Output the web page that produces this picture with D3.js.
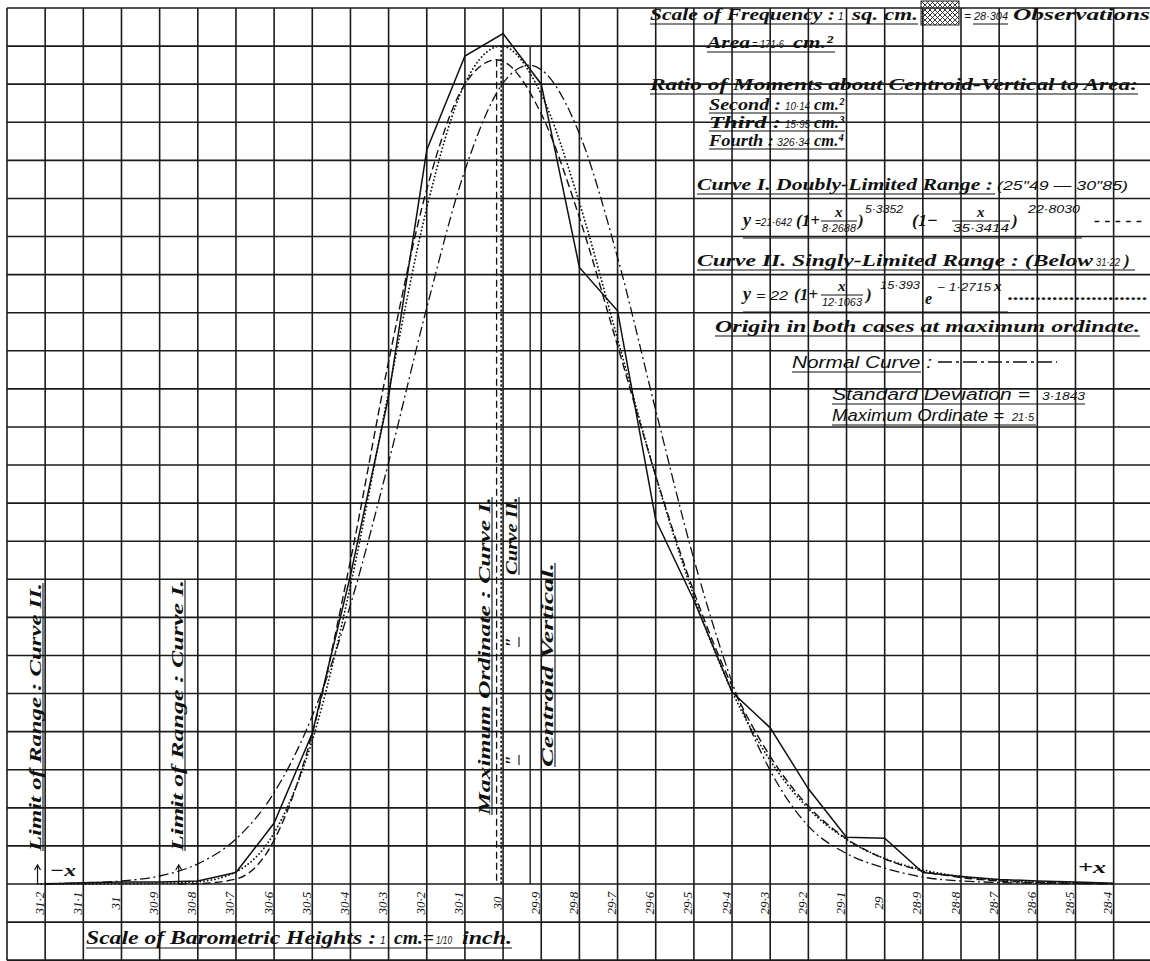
<!DOCTYPE html>
<html>
<head>
<meta charset="utf-8">
<title>Barometric Heights</title>
<script src="https://d3js.org/d3.v7.min.js"></script>
<style>
  body { margin: 0; background: #fff; }
  svg { display: block; }
  .h { font-family: 'Liberation Serif', serif; font-style: italic; font-weight: bold; font-size: 17px; fill: #111; }
  .n { font-family: 'Liberation Sans', sans-serif; font-style: italic; font-size: 10px; fill: #111; }
  .s { font-family: 'Liberation Sans', sans-serif; font-style: italic; font-size: 15px; fill: #111; }
  .tick text { font-family: 'Liberation Serif', serif; font-style: italic; font-size: 13px; fill: #111; }
</style>
</head>
<body>
<svg id="chart"></svg>
<script>
    // barometric heights (inches) at the ruled verticals, with their printed labels
    var tickHeights = [31.2, 31.1, 31.0, 30.9, 30.8, 30.7, 30.6, 30.5, 30.4, 30.3, 30.2, 30.1, 30.0, 29.9, 29.8,
        29.7, 29.6, 29.5, 29.4, 29.3, 29.2, 29.1, 29.0, 28.9, 28.8, 28.7, 28.6, 28.5, 28.4];
    var tickLabels = ['31·2', '31·1', '31', '30·9', '30·8', '30·7', '30·6', '30·5', '30·4', '30·3', '30·2', '30·1', '30',
        '29·9', '29·8', '29·7', '29·6', '29·5', '29·4', '29·3', '29·2', '29·1', '29', '28·9', '28·8', '28·7', '28·6', '28·5', '28·4'];

    // observed frequency polygon (ordinates in cm), one per tick height
    var observed = [0, 0.03, 0.05, 0.05, 0.08, 0.3, 1.6, 3.96, 8.1, 12.8, 19.27, 21.74, 22.33, 21.0, 16.19,
        15.05, 9.56, 7.45, 5.04, 4.1, 2.5, 1.23, 1.2, 0.3, 0.2, 0.12, 0.08, 0.05, 0.02];

    // Curve I, doubly limited range (dashed)
    var curveOneHeights = [30.85, 30.8, 30.7, 30.6, 30.5, 30.4, 30.3, 30.2, 30.1, 30.017, 29.9, 29.8, 29.7,
        29.6, 29.5, 29.4, 29.3, 29.2, 29.1, 29.0, 28.9, 28.8, 28.7, 28.6, 28.5, 28.4];
    var curveOneValues = [0, 0.01, 0.13, 1.15, 3.95, 8.49, 13.72, 18.24, 21.0, 21.64, 20.22, 17.5, 14.13,
        10.72, 7.67, 5.2, 3.35, 2.04, 1.19, 0.66, 0.34, 0.17, 0.08, 0.04, 0.02, 0.01];

    // Curve II, singly limited range (dotted)
    var curveTwoHeights = [31.22, 31.1, 31.0, 30.9, 30.8, 30.7, 30.6, 30.5, 30.4, 30.3, 30.2, 30.1, 30.005,
        29.9, 29.8, 29.7, 29.6, 29.5, 29.4, 29.3, 29.2, 29.1, 29.0, 28.9, 28.8, 28.7, 28.6, 28.5, 28.4];
    var curveTwoValues = [0, 0, 0.01, 0.02, 0.06, 0.32, 1.34, 3.77, 7.83, 12.92, 17.75, 21.02, 22.0,
        20.74, 17.89, 14.31, 10.71, 7.56, 5.06, 3.24, 1.98, 1.17, 0.67, 0.37, 0.2, 0.1, 0.05, 0.03, 0.01];

    // normal curve (dash-dot)
    var normalHeights = [31.2, 31.1, 31.0, 30.9, 30.8, 30.7, 30.6, 30.5, 30.4, 30.3, 30.2, 30.1, 30.0, 29.93,
        29.9, 29.8, 29.7, 29.6, 29.5, 29.4, 29.3, 29.2, 29.1, 29.0, 28.9, 28.8, 28.7, 28.6, 28.5, 28.4];
    var normalValues = [0.01, 0.03, 0.08, 0.21, 0.53, 1.18, 2.4, 4.41, 7.33, 11.07, 15.13, 18.74, 21.03, 21.5,
        21.38, 19.7, 16.45, 12.44, 8.53, 5.3, 2.98, 1.52, 0.8, 0.42, 0.18, 0.08, 0.04, 0.02, 0.01, 0];

    // verticals: maximum ordinates, centroid, range limits
    var modeOne = 30.017, modeOneTop = 21.64;
    var modeTwo = 30.005, modeTwoTop = 22.0;
    var centroid = 29.929, centroidTop = 22.0;
    var limitOne = 30.85, limitTwo = 31.22;

    var width = 1150, height = 961;
    var svg = d3.select('#chart').attr('width', width).attr('height', height);
    svg.append('rect').attr('width', width).attr('height', height).attr('fill', '#fff');

    var x = d3.scaleLinear().domain([31.3, 28.3]).range([7, 1151.8]);
    var y = d3.scaleLinear().domain([0, 23]).range([884, 8]);

    var defs = svg.append('defs');
    defs.append('pattern').attr('id', 'hatch').attr('patternUnits', 'userSpaceOnUse')
        .attr('width', 5).attr('height', 5)
        .append('path').attr('d', 'M0,0L5,5M5,0L0,5M-1,4L1,6M4,-1L6,1')
        .attr('stroke', '#222').attr('stroke-width', 0.9);

    // squared paper
    var grid = svg.append('g').attr('stroke', '#1b1b1b').attr('stroke-width', 1.6);
    grid.selectAll('.gv').data(d3.range(0, 31)).enter().append('line')
        .attr('x1', function(k) { return x(31.3 - k / 10); })
        .attr('x2', function(k) { return x(31.3 - k / 10); })
        .attr('y1', y(23)).attr('y2', y(-2));
    grid.selectAll('.gh').data(d3.range(-2, 24)).enter().append('line')
        .attr('x1', x(31.3)).attr('x2', x(28.3))
        .attr('y1', function(v) { return y(v); })
        .attr('y2', function(v) { return y(v); });

    // scale of barometric heights
    var axis = d3.axisBottom(x).tickValues(tickHeights).tickSize(0)
        .tickFormat(function(d, i) { return tickLabels[i]; });
    var ax = svg.append('g').attr('transform', 'translate(0,' + y(0) + ')').call(axis);
    ax.select('.domain').remove();
    ax.selectAll('text')
        .attr('transform', 'rotate(-90)')
        .attr('x', -19).attr('y', -2).attr('dy', 0)
        .attr('text-anchor', 'middle');

    // maximum ordinate and centroid verticals
    svg.append('line').attr('x1', x(modeOne)).attr('x2', x(modeOne))
        .attr('y1', y(modeOneTop)).attr('y2', y(0))
        .attr('stroke', '#111').attr('stroke-width', 1.3).attr('stroke-dasharray', '7,4');
    svg.append('line').attr('x1', x(modeTwo)).attr('x2', x(modeTwo))
        .attr('y1', y(modeTwoTop)).attr('y2', y(0))
        .attr('stroke', '#111').attr('stroke-width', 1.6).attr('stroke-dasharray', '1.2,3.2')
        .attr('stroke-linecap', 'round');
    svg.append('line').attr('x1', x(centroid)).attr('x2', x(centroid))
        .attr('y1', y(centroidTop)).attr('y2', y(0))
        .attr('stroke', '#1b1b1b').attr('stroke-width', 1.4);

    // curves
    function pts(hs, vs) { return hs.map(function(h, i) { return { h: h, v: vs[i] }; }); }
    var smooth = d3.line().x(function(d) { return x(d.h); }).y(function(d) { return y(d.v); })
        .curve(d3.curveMonotoneX);
    var straight = d3.line().x(function(d) { return x(d.h); }).y(function(d) { return y(d.v); });

    svg.append('path').attr('d', smooth(pts(normalHeights, normalValues)))
        .attr('fill', 'none').attr('stroke', '#111').attr('stroke-width', 1.3)
        .attr('stroke-dasharray', '10,3.5,2,3.5');
    svg.append('path').attr('d', smooth(pts(curveOneHeights, curveOneValues)))
        .attr('fill', 'none').attr('stroke', '#111').attr('stroke-width', 1.4)
        .attr('stroke-dasharray', '8,4');
    svg.append('path').attr('d', smooth(pts(curveTwoHeights, curveTwoValues)))
        .attr('fill', 'none').attr('stroke', '#111').attr('stroke-width', 1.8)
        .attr('stroke-dasharray', '0.1,3.6').attr('stroke-linecap', 'round');
    svg.append('path').attr('d', straight(pts(tickHeights, observed)))
        .attr('fill', 'none').attr('stroke', '#111').attr('stroke-width', 1.5);

    // text helpers
    function txt(x0, y0, s, cls, len, size) {
        var t = svg.append('text').attr('x', x0).attr('y', y0).attr('class', cls).text(s);
        if (len) t.attr('textLength', len).attr('lengthAdjust', 'spacingAndGlyphs');
        if (size) t.style('font-size', size + 'px');
        return t;
    }
    function uline(x1, x2, y0) {
        svg.append('line').attr('x1', x1).attr('x2', x2).attr('y1', y0).attr('y2', y0)
            .attr('stroke', '#111').attr('stroke-width', 1.1);
    }
    function vtxt(x0, y0, s, cls, len, size) {
        var t = svg.append('text').attr('transform', 'translate(' + x0 + ',' + y0 + ') rotate(-90)')
            .attr('class', cls).text(s);
        if (len) t.attr('textLength', len).attr('lengthAdjust', 'spacingAndGlyphs');
        if (size) t.style('font-size', size + 'px');
        svg.append('line').attr('x1', x0 + 2).attr('x2', x0 + 2).attr('y1', y0).attr('y2', y0 - len)
            .attr('stroke', '#111').attr('stroke-width', 1.1);
    }
    function frac(cx, y0, den, w) {
        txt(cx - 4, y0 - 9, 'x', 'h', null, 15);
        svg.append('line').attr('x1', cx - w / 2).attr('x2', cx + w / 2).attr('y1', y0 - 5).attr('y2', y0 - 5)
            .attr('stroke', '#111').attr('stroke-width', 1);
        txt(cx, y0 + 6, den, 'n', w - 2, 10).attr('text-anchor', 'middle');
    }

    // heading block
    txt(650, 20, 'Scale of Frequency :', 'h', 185);
    txt(838, 20, '1', 'n');
    txt(852, 20, 'sq. cm.', 'h', 66);
    uline(650, 918, 24);
    svg.append('rect').attr('x', 921).attr('y', 1).attr('width', 38).attr('height', 24)
        .attr('fill', 'url(#hatch)').attr('stroke', '#222').attr('stroke-width', 1);
    txt(964, 20, '=', 'n', null, 12);
    txt(974, 20, '28·304', 'n', 34);
    uline(973, 1008, 24);
    txt(1013, 20, 'Observations', 'h', 137);

    txt(707, 48, 'Area', 'h', 43);
    txt(752, 48, '= 171·6', 'n', 32);
    txt(793, 48, 'cm.²', 'h', 40);
    uline(707, 835, 52);

    txt(650, 90, 'Ratio of Moments about Centroid-Vertical to Area:', 'h', 488);
    uline(650, 1138, 94);
    txt(709, 110, 'Second :', 'h', 72);
    txt(785, 110, '10·14', 'n', 25);
    txt(814, 110, 'cm.²', 'h', 30);
    uline(709, 845, 113);
    txt(709, 128, 'Third   :', 'h', 72);
    txt(785, 128, '15·95', 'n', 25);
    txt(814, 128, 'cm.³', 'h', 30);
    uline(709, 845, 131);
    txt(709, 146, 'Fourth :', 'h', 65);
    txt(777, 146, '326·34', 'n', 33);
    txt(814, 146, 'cm.⁴', 'h', 30);
    uline(709, 845, 149);

    txt(697, 190, 'Curve I. Doubly-Limited Range :', 'h', 296);
    txt(997, 190, '(25″49 — 30″85)', 'n', 131, 12);
    uline(697, 995, 194);

    // Curve I formula
    txt(743, 226, 'y', 'h', null, 18);
    txt(755, 226, '=21·642', 'n', 37, 11);
    txt(796, 226, '(1+', 'h', 24, 17);
    frac(839, 226, '8·2688', 36);
    txt(858, 226, ')', 'h', null, 17);
    txt(865, 213, '5·3352', 'n', 38, 11);
    txt(912, 226, '(1−', 'h', 26, 17);
    frac(981, 226, '35·3414', 58);
    txt(1012, 226, ')', 'h', null, 17);
    txt(1028, 213, '22·8030', 'n', 52, 11);
    txt(1094, 226, '- - - - -', 'h', 48);
    uline(743, 1082, 238);

    txt(697, 266, 'Curve II. Singly-Limited Range : (Below', 'h', 396);
    txt(1096, 266, '31·22', 'n', 24, 11);
    txt(1124, 266, ')', 'h');
    uline(697, 1135, 270);

    // Curve II formula
    txt(743, 300, 'y', 'h', null, 18);
    txt(756, 300, '= 22', 'n', 32, 12);
    txt(794, 300, '(1+', 'h', 24, 17);
    frac(842, 300, '12·1063', 42);
    txt(866, 300, ')', 'h', null, 17);
    txt(880, 289, '15·393', 'n', 40, 11);
    txt(925, 304, 'e', 'h', null, 16);
    txt(937, 291, '− 1·2715', 'n', 54, 11);
    txt(994, 291, 'x', 'h', null, 15);
    txt(1008, 300, '.........................', 'h', 140);
    uline(743, 1008, 312);

    txt(715, 332, 'Origin in both cases at maximum ordinate.', 'h', 425);
    uline(715, 1140, 336);

    txt(792, 368, 'Normal  Curve :', 's', 140, 16);
    uline(792, 921, 372);
    svg.append('line').attr('x1', 938).attr('x2', 1057).attr('y1', 362).attr('y2', 362)
        .attr('stroke', '#111').attr('stroke-width', 1.4).attr('stroke-dasharray', '14,4,3,4');
    txt(832, 400, 'Standard  Deviation  =', 's', 198, 16);
    txt(1042, 400, '3·1843', 'n', 43, 11);
    uline(832, 1085, 404);
    txt(832, 421, 'Maximum  Ordinate  =', 's', 172, 16);
    txt(1012, 421, '21·5', 'n', 22, 11);
    uline(832, 1036, 425);

    // vertical annotations
    vtxt(41, 851, 'Limit  of  Range : Curve II.', 'h', 268);
    vtxt(183, 851, 'Limit  of  Range : Curve I.', 'h', 271);
    vtxt(490, 815, 'Maximum  Ordinate : Curve I.', 'h', 318);
    vtxt(517, 575, 'Curve II.', 'h', 78);
    vtxt(517, 647, '″', 'h', 10, 16);
    vtxt(517, 765, '″', 'h', 10, 16);
    vtxt(553, 767, 'Centroid  Vertical.', 'h', 204);

    // range limits and direction of x
    [limitTwo, limitOne].forEach(function(h) {
        svg.append('line').attr('x1', x(h)).attr('x2', x(h)).attr('y1', y(0)).attr('y2', y(0.5))
            .attr('stroke', '#111').attr('stroke-width', 1.2);
        svg.append('path').attr('d', 'M' + (x(h) - 3) + ',' + (y(0.5) + 5) + 'L' + x(h) + ',' + y(0.5) +
            'L' + (x(h) + 3) + ',' + (y(0.5) + 5)).attr('fill', 'none').attr('stroke', '#111').attr('stroke-width', 1.2);
    });
    txt(50, 876, '−x', 'h', 26, 17);
    txt(1078, 873, '+x', 'h', 28, 17);

    // bottom scale caption
    txt(86, 944, 'Scale of Barometric Heights :', 'h', 290, 18);
    txt(380, 944, '1', 'n');
    txt(394, 944, 'cm.=', 'h', 40, 18);
    txt(436, 944, '1/10', 'n', 16, 10);
    txt(462, 944, 'inch.', 'h', 50, 18);
    uline(86, 512, 948);
</script>
</body>
</html>
